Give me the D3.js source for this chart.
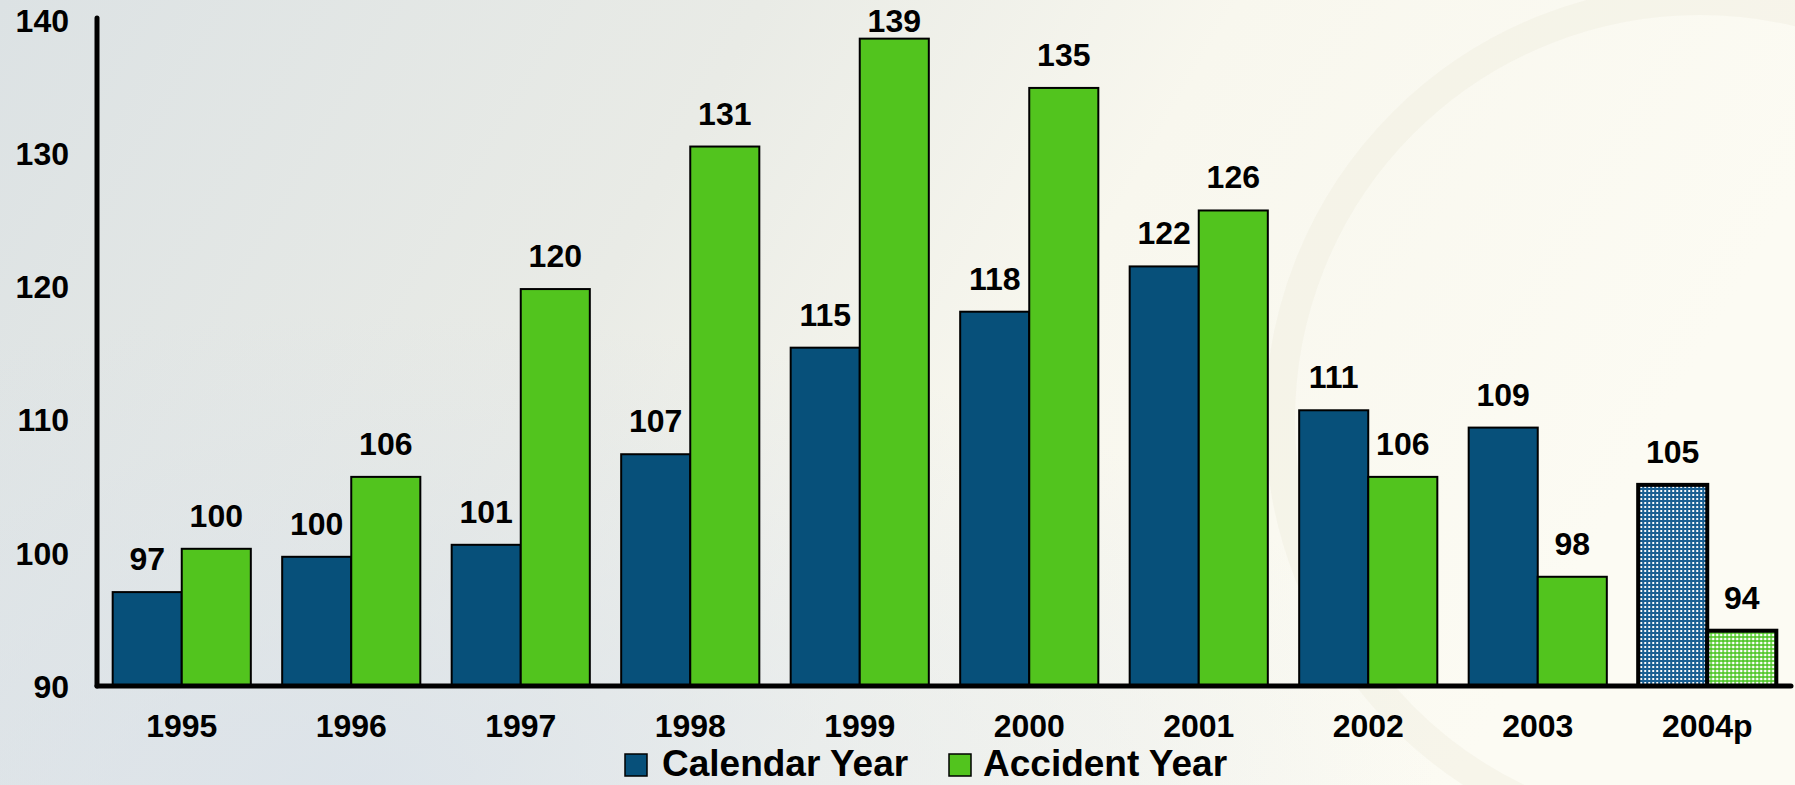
<!DOCTYPE html>
<html>
<head>
<meta charset="utf-8">
<script src="https://cdn.jsdelivr.net/npm/d3@7"></script>
<style>
  html, body { margin: 0; padding: 0; overflow: hidden; }
  text { font-family: "Liberation Sans", Arial, sans-serif; font-weight: bold; }
</style>
</head>
<body>
<div id="chart"></div>
<script>
// chart data
var years = ['1995', '1996', '1997', '1998', '1999', '2000', '2001', '2002', '2003', '2004p']
var calendarYear = [97.05, 99.7, 100.6, 107.4, 115.4, 118.1, 121.5, 110.7, 109.4, 105.1]
var accidentYear = [100.3, 105.7, 119.8, 130.5, 138.6, 134.9, 125.7, 105.7, 98.2, 94.15]
var calendarLabels = ['97', '100', '101', '107', '115', '118', '122', '111', '109', '105']
var accidentLabels = ['100', '106', '120', '131', '139', '135', '126', '106', '98', '94']
var yTicks = [90, 100, 110, 120, 130, 140]
var seriesNames = ['Calendar Year', 'Accident Year']
var projected = ['2004p']

var width = 1795
var height = 785
var blue = '#07507a'
var green = '#52c41e'

var svg = d3.select('#chart')
    .append('svg')
    .attr('width', width)
    .attr('height', height)

// background + hatch patterns
var defs = svg.append('defs')

var bg = defs.append('linearGradient')
    .attr('id', 'bg')
    .attr('x1', 0).attr('y1', 0).attr('x2', 1).attr('y2', 0.25)
bg.append('stop').attr('offset', '0%').attr('stop-color', '#dce2e4')
bg.append('stop').attr('offset', '40%').attr('stop-color', '#e9ebe6')
bg.append('stop').attr('offset', '65%').attr('stop-color', '#f8f7ee')
bg.append('stop').attr('offset', '100%').attr('stop-color', '#fcfbf3')

// bluish haze in the lower left, fading out radially
var haze = defs.append('radialGradient')
    .attr('id', 'haze')
    .attr('cx', 0.2).attr('cy', 1).attr('r', 0.6)
haze.append('stop').attr('offset', '0%').attr('stop-color', '#d9e1ea').attr('stop-opacity', 0.8)
haze.append('stop').attr('offset', '100%').attr('stop-color', '#d9e1ea').attr('stop-opacity', 0)

function hatch(id, base, line, w) {
    var p = defs.append('pattern')
        .attr('id', id)
        .attr('patternUnits', 'userSpaceOnUse')
        .attr('width', 4)
        .attr('height', 4)
    p.append('rect').attr('width', 4).attr('height', 4).attr('fill', base)
    p.append('path')
        .attr('d', 'M0,1 H4 M1,0 V4')
        .attr('stroke', line)
        .attr('stroke-width', w)
}
hatch('hatchBlue', '#ffffff', '#1a5f92', 2.2)
hatch('hatchGreen', '#ffffff', '#45c41b', 1.4)

svg.append('rect')
    .attr('width', width)
    .attr('height', height)
    .attr('fill', 'url(#bg)')

svg.append('rect')
    .attr('width', width)
    .attr('height', height)
    .attr('fill', 'url(#haze)')

// faint watermark ring on the right
svg.append('circle')
    .attr('cx', 1700).attr('cy', 420).attr('r', 420)
    .attr('fill', 'none')
    .attr('stroke', '#ece9d8')
    .attr('stroke-width', 30)
    .attr('opacity', 0.3)

// scales
var x = d3.scaleBand()
    .domain(years)
    .range([97, 1792])
    .paddingInner(0.185)
    .paddingOuter(0.0925)

var xInner = d3.scaleBand()
    .domain(seriesNames)
    .range([0, x.bandwidth()])

var y = d3.scaleLinear()
    .domain([90, 140])
    .range([686, 20])

var rows = years.map(function(yr, i) {
    return {
        year: yr,
        values: [
            { name: seriesNames[0], value: calendarYear[i], label: calendarLabels[i] },
            { name: seriesNames[1], value: accidentYear[i], label: accidentLabels[i] }
        ]
    }
})

function barFill(yr, name) {
    var isProj = projected.indexOf(yr) >= 0
    if (name === seriesNames[0]) return isProj ? 'url(#hatchBlue)' : blue
    return isProj ? 'url(#hatchGreen)' : green
}

// bars
var groups = svg.selectAll('g.year')
    .data(rows)
    .enter()
    .append('g')
    .attr('class', 'year')
    .attr('transform', (d) => 'translate(' + x(d.year) + ',0)')

groups.selectAll('rect')
    .data((d) => d.values.map((v) => Object.assign({ year: d.year }, v)))
    .enter()
    .append('rect')
    .attr('x', (d) => xInner(d.name))
    .attr('y', (d) => y(d.value))
    .attr('width', xInner.bandwidth())
    .attr('height', (d) => y(90) - y(d.value))
    .attr('fill', (d) => barFill(d.year, d.name))
    .attr('stroke', '#000')
    .attr('stroke-width', (d) => projected.indexOf(d.year) >= 0 ? 4 : 2)

// value labels, kept inside the top edge
groups.selectAll('text.val')
    .data((d) => d.values)
    .enter()
    .append('text')
    .attr('class', 'val')
    .attr('x', (d) => xInner(d.name) + xInner.bandwidth() / 2)
    .attr('y', (d) => Math.max(y(d.value) - 22, 32))
    .attr('text-anchor', 'middle')
    .attr('font-size', 32)
    .attr('fill', '#000')
    .text((d) => d.label)

// axes
var yAxis = d3.axisLeft(y)
    .tickValues(yTicks)
    .tickSize(0)
    .tickPadding(28)

var yG = svg.append('g')
    .attr('transform', 'translate(97,0)')
    .call(yAxis)
yG.select('.domain').remove()
yG.selectAll('text')
    .attr('font-size', 32)
    .attr('font-family', '"Liberation Sans", Arial, sans-serif')
    .attr('font-weight', 'bold')
    .attr('fill', '#000')
    .attr('dy', '0.35em')

var xAxis = d3.axisBottom(x)
    .tickSize(0)
    .tickPadding(28)

var xG = svg.append('g')
    .attr('transform', 'translate(0,686)')
    .call(xAxis)
xG.select('.domain').remove()
xG.selectAll('text')
    .attr('font-size', 32)
    .attr('font-family', '"Liberation Sans", Arial, sans-serif')
    .attr('font-weight', 'bold')
    .attr('fill', '#000')
    .attr('dy', '0.71em')

svg.append('line')
    .attr('x1', 97).attr('y1', 18)
    .attr('x2', 97).attr('y2', 686)
    .attr('stroke', '#000')
    .attr('stroke-width', 5)
    .attr('stroke-linecap', 'round')

svg.append('line')
    .attr('x1', 97).attr('y1', 686)
    .attr('x2', 1791).attr('y2', 686)
    .attr('stroke', '#000')
    .attr('stroke-width', 5)
    .attr('stroke-linecap', 'round')

// legend
var legendItems = [
    { name: seriesNames[0], color: blue, box: 625, text: 662 },
    { name: seriesNames[1], color: green, box: 949, text: 983 }
]
var legend = svg.append('g').attr('class', 'legend')
legend.selectAll('rect')
    .data(legendItems)
    .enter()
    .append('rect')
    .attr('x', (d) => d.box)
    .attr('y', 754)
    .attr('width', 22)
    .attr('height', 22)
    .attr('fill', (d) => d.color)
    .attr('stroke', '#000')
    .attr('stroke-width', 1.5)
legend.selectAll('text')
    .data(legendItems)
    .enter()
    .append('text')
    .attr('x', (d) => d.text)
    .attr('y', 776)
    .attr('font-size', 37)
    .attr('fill', '#000')
    .text((d) => d.name)
</script>
</body>
</html>
